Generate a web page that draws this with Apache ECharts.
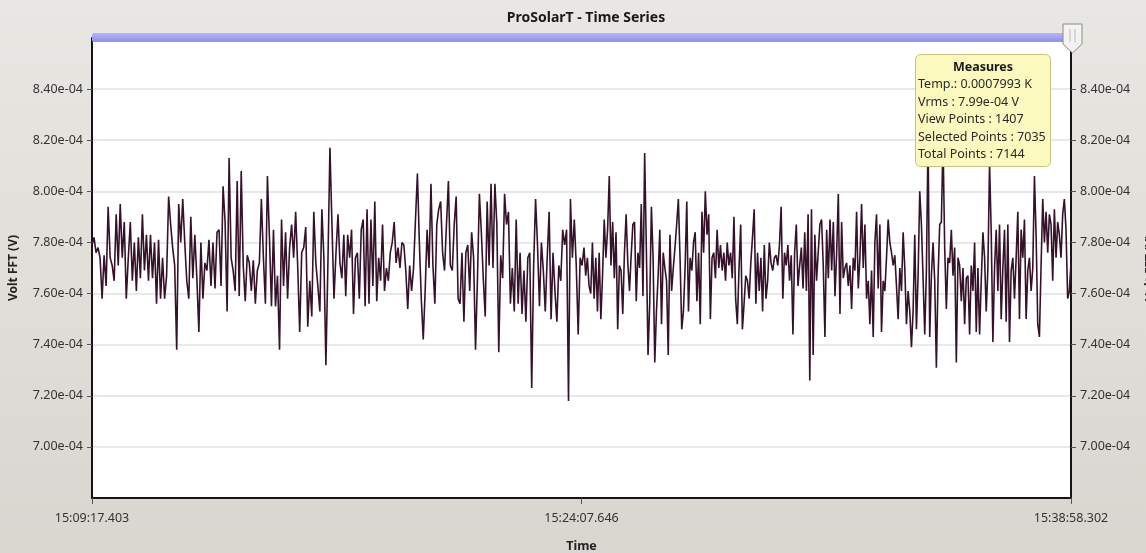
<!DOCTYPE html>
<html>
<head>
<meta charset="utf-8">
<title>ProSolarT - Time Series</title>
<script src="https://cdn.jsdelivr.net/npm/echarts@6/dist/echarts.min.js"></script>
<style>
  html, body { margin: 0; padding: 0; }
  #container { width: 1146px; height: 553px; }
</style>
</head>
<body>
<div id="container"></div>
<script>
// tick labels of the time axis (start, middle, end of the view)
var timeLabels = ['15:09:17.403', '15:24:07.646', '15:38:58.302'];
var spanSec = 1780.899;
// seconds from the start where each block of readings begins / ends
var blockBoundsSec = [0, 447.5, 895.0, 1342.5, 1780.899];

// Volt FFT readings, in units of 1e-4 V
var voltBlock1 = [7.79, 7.82, 7.76, 7.78, 7.74, 7.58, 7.75, 7.63, 7.94, 7.74,
    7.71, 7.65, 7.91, 7.71, 7.95, 7.74, 7.88, 7.58, 7.74, 7.88,
    7.65, 7.80, 7.61, 7.82, 7.66, 7.91, 7.69, 7.83, 7.65, 7.83,
    7.66, 7.80, 7.56, 7.81, 7.58, 7.74, 7.58, 7.67, 7.98, 7.87,
    7.78, 7.71, 7.38, 7.95, 7.80, 7.97, 7.80, 7.65, 7.58, 7.90,
    7.66, 7.83, 7.66, 7.45, 7.80, 7.58, 7.72, 7.69, 7.81, 7.63,
    7.80, 7.62, 7.84, 7.85, 7.63, 8.02, 7.88, 7.53, 8.13, 7.74,
    7.69, 7.61, 8.04, 7.59, 8.08, 7.71, 7.57, 7.75, 7.72, 7.61,
    7.73, 7.56, 7.69, 7.72, 7.97, 7.74, 7.56, 8.06, 7.82, 7.55,
    7.85, 7.55, 7.67, 7.38, 7.89, 7.63, 7.84, 7.58, 7.78, 7.87,
    7.74, 7.92, 7.71, 7.45, 7.76, 7.78, 7.86, 7.47, 7.65, 7.51,
    7.92, 7.72, 7.63, 7.53, 7.93, 7.74, 7.32, 7.72, 8.17, 7.87,
    7.58, 7.76];
var voltBlock2 = [7.91, 7.72, 7.66, 7.83, 7.59, 7.83, 7.74, 7.85, 7.52, 7.74,
    7.76, 7.58, 7.85, 7.89, 7.55, 7.93, 7.56, 7.89, 7.63, 7.96,
    7.57, 7.74, 7.65, 7.87, 7.61, 7.70, 7.65, 7.76, 7.80, 7.88,
    7.72, 7.78, 7.70, 7.80, 7.79, 7.69, 7.54, 7.71, 7.61, 7.70,
    7.89, 8.07, 7.80, 7.58, 7.42, 7.61, 7.85, 7.70, 8.03, 7.71,
    7.56, 7.87, 7.93, 7.96, 7.76, 7.69, 7.87, 8.04, 7.71, 7.69,
    7.87, 7.98, 7.58, 7.56, 7.76, 7.49, 7.76, 7.79, 7.61, 7.84,
    7.74, 7.38, 7.66, 7.99, 7.84, 7.66, 7.51, 7.96, 7.71, 8.03,
    7.70, 8.03, 7.87, 7.37, 7.75, 7.66, 7.99, 7.87, 7.92, 7.56,
    7.70, 7.53, 7.89, 7.56, 7.76, 7.52, 7.69, 7.49, 7.74, 7.76,
    7.23, 7.71, 7.97, 7.79, 7.55, 7.80, 7.69, 7.53, 7.74, 7.92,
    7.50, 7.76, 7.61, 7.49, 7.71, 7.65, 7.85, 7.79, 7.85, 7.18,
    7.97, 7.74, 7.89, 7.71, 7.44, 7.74, 7.71];
var voltBlock3 = [7.78, 7.67, 7.74, 7.63, 7.60, 7.80, 7.58, 7.74, 7.53, 7.76,
    7.50, 7.67, 7.89, 7.74, 7.85, 8.06, 7.71, 7.88, 7.66, 7.84,
    7.46, 7.71, 7.69, 7.52, 7.76, 7.91, 7.72, 7.61, 7.75, 7.87,
    7.88, 7.57, 7.76, 7.70, 7.95, 7.59, 8.15, 7.78, 7.36, 7.56,
    7.94, 7.74, 7.33, 7.53, 7.67, 7.85, 7.48, 7.76, 7.70, 7.65,
    7.36, 7.83, 7.61, 7.70, 7.78, 7.87, 7.97, 7.74, 7.46, 7.53,
    7.70, 7.96, 7.53, 7.74, 7.69, 7.80, 7.84, 7.57, 7.76, 7.48,
    7.92, 7.76, 8.00, 7.83, 7.91, 7.50, 7.74, 7.76, 7.66, 7.85,
    7.70, 7.79, 7.69, 7.76, 7.65, 7.80, 7.71, 7.76, 7.66, 7.90,
    7.58, 7.48, 7.70, 7.87, 7.46, 7.56, 7.67, 7.65, 7.58, 7.72,
    7.82, 7.93, 7.56, 7.76, 7.61, 7.74, 7.53, 7.79, 7.58, 7.65,
    7.80, 7.72, 7.69, 7.74, 7.75, 7.71, 7.79, 7.94, 7.58, 7.76,
    7.71, 7.79, 7.65, 7.75, 7.44, 7.76, 7.87, 7.63, 7.71, 7.78,
    7.62, 7.84, 7.61, 7.91, 7.26, 7.93, 7.36, 7.83, 7.65, 7.76,
    7.87, 7.89, 7.71, 7.43, 7.85, 7.66];
var voltBlock4 = [7.89, 7.69, 7.88, 7.59, 7.76, 7.99, 7.52, 7.88, 7.66, 7.70,
    7.72, 7.63, 7.71, 7.54, 7.74, 7.69, 7.92, 7.62, 7.74, 7.95,
    7.70, 7.87, 7.58, 7.65, 7.48, 7.69, 7.43, 7.80, 7.91, 7.62,
    7.87, 7.45, 7.65, 7.61, 7.74, 7.89, 7.80, 7.76, 7.71, 7.75,
    7.63, 7.50, 7.70, 7.61, 7.84, 7.70, 7.48, 7.61, 7.53, 7.39,
    7.53, 7.83, 7.46, 7.67, 8.00, 7.87, 7.66, 7.44, 7.69, 8.22,
    7.43, 7.67, 7.80, 7.65, 7.31, 7.66, 7.87, 7.88, 8.20, 7.78,
    7.54, 7.74, 7.72, 7.85, 7.67, 7.78, 7.33, 7.74, 7.71, 7.57,
    7.70, 7.48, 7.66, 7.67, 7.44, 7.71, 7.61, 7.80, 7.45, 7.70,
    7.44, 7.65, 7.84, 7.74, 7.53, 7.70, 8.11, 7.84, 7.41, 7.70,
    7.85, 7.61, 7.87, 7.50, 7.70, 7.85, 7.49, 7.87, 7.41, 7.69,
    7.74, 7.58, 7.74, 7.92, 7.50, 7.85, 7.74, 7.89, 7.50, 7.69,
    7.74, 7.61, 7.70, 8.06, 7.83, 7.48, 7.43, 7.71, 7.97, 7.80,
    7.92, 7.76, 7.91, 7.87, 7.65, 7.93, 7.74, 7.88, 7.83, 7.74,
    7.91, 7.97, 7.85, 7.58, 7.61, 7.72];

var measureLines = ['Temp.: 0.0007993 K', 'Vrms : 7.99e-04 V', 'View Points : 1407',
    'Selected Points : 7035', 'Total Points : 7144'];

function buildSeries() {
    var blocks = [voltBlock1, voltBlock2, voltBlock3, voltBlock4];
    var out = [];
    blocks.forEach(function (vals, k) {
        var t0 = blockBoundsSec[k], t1 = blockBoundsSec[k + 1];
        var last = k === blocks.length - 1;
        var n = last ? vals.length - 1 : vals.length;
        vals.forEach(function (v, i) {
            out.push([t0 + (t1 - t0) * i / n, v]);
        });
    });
    return out;
}

function graficoSerie() {
    var dom = document.getElementById('container');
    var myChart = echarts.init(dom);
    var font = '"Noto Sans", "Open Sans", sans-serif';
    var yFmt = function (v) { return v.toFixed(2) + 'e-04'; };

    var graphics = [
        // selection bar across the top of the plot
        { type: 'rect', shape: { x: 92, y: 33, width: 979, height: 9, r: 2 },
          style: { fill: new echarts.graphic.LinearGradient(0, 0, 0, 1, [
              { offset: 0, color: '#b4b4f6' }, { offset: 1, color: '#8f8fee' }]) }, z: 10 },
        // right handle
        { type: 'polygon', shape: { points: [[1063, 24], [1082, 24], [1082, 44], [1072.5, 53], [1063, 44]] },
          style: { fill: '#f3f3f3', stroke: '#8a8a8a', lineWidth: 1 }, z: 11 },
        { type: 'line', shape: { x1: 1070, y1: 29, x2: 1070, y2: 42 }, style: { stroke: '#bbb' }, z: 12 },
        { type: 'line', shape: { x1: 1075, y1: 29, x2: 1075, y2: 42 }, style: { stroke: '#bbb' }, z: 12 },
        // measures box
        { type: 'rect', shape: { x: 915.5, y: 54.5, width: 135, height: 112, r: 5 },
          style: { fill: '#fbf9bd', stroke: '#c9c27e', lineWidth: 1 }, z: 20 },
        { type: 'text', x: 983, y: 61, z: 21,
          style: { text: 'Measures', font: 'bold 12.5px ' + font, fill: '#1a1a1a', textAlign: 'center' } }
    ];
    measureLines.forEach(function (s, i) {
        graphics.push({ type: 'text', x: 918, y: 78 + i * 17.6, z: 21,
            style: { text: s, font: '12.5px ' + font, fill: '#2a2a2a' } });
    });

    var yBase = {
        type: 'value', min: 6.8, max: 8.6, interval: 0.2,
        axisLine: { show: true, lineStyle: { color: '#151515', width: 2 } },
        axisTick: { show: true, length: 5, lineStyle: { color: '#555' } },
        axisLabel: { formatter: yFmt, color: '#333', fontSize: 12.5, fontFamily: font,
                     margin: 9, showMinLabel: false, showMaxLabel: false }
    };

    var option = {
        backgroundColor: new echarts.graphic.LinearGradient(0, 0, 0, 1, [
            { offset: 0, color: '#e9e7e3' }, { offset: 1, color: '#d9d6d0' }]),
        animation: false,
        title: {
            text: 'ProSolarT - Time Series', left: 581, top: 6, textAlign: 'center',
            textStyle: { fontSize: 14, fontWeight: 'bold', color: '#1a1a1a', fontFamily: font }
        },
        grid: { left: 92, right: 75, top: 38, bottom: 55, show: true,
                backgroundColor: '#ffffff', borderWidth: 0,
                containLabel: false, outerBoundsMode: 'none' },
        xAxis: {
            type: 'value', min: 0, max: spanSec, interval: spanSec / 2,
            name: 'Time', nameLocation: 'middle', nameGap: 42,
            nameTextStyle: { fontSize: 12.5, fontWeight: 'bold', color: '#222', fontFamily: font },
            axisLine: { lineStyle: { color: '#151515', width: 2 } },
            axisTick: { show: true, length: 6, lineStyle: { color: '#555' } },
            axisLabel: { color: '#333', fontSize: 12.5, fontFamily: font, margin: 14,
                formatter: function (v) { return timeLabels[Math.round(v / (spanSec / 2))]; } },
            splitLine: { show: false }
        },
        yAxis: [
            Object.assign({}, yBase, {
                position: 'left',
                name: 'Volt FFT (V)', nameLocation: 'middle', nameGap: 72,
                nameTextStyle: { fontSize: 12, fontWeight: 'bold', color: '#222', fontFamily: font },
                splitLine: { show: true, lineStyle: { color: '#e2e2e2', width: 1.5 } }
            }),
            Object.assign({}, yBase, {
                position: 'right',
                name: 'Volt FFT (V)', nameLocation: 'middle', nameGap: 74,
                nameTextStyle: { fontSize: 12, fontWeight: 'bold', color: '#222', fontFamily: font },
                splitLine: { show: false }
            })
        ],
        graphic: graphics,
        series: [{
            type: 'line',
            data: buildSeries(),
            showSymbol: false,
            symbol: 'none',
            sampling: null,
            lineStyle: { color: '#35122a', width: 1.6 },
            z: 3
        }]
    };

    if (option && typeof option === 'object') {
        myChart.setOption(option);
    }
}
graficoSerie();
</script>
</body>
</html>
